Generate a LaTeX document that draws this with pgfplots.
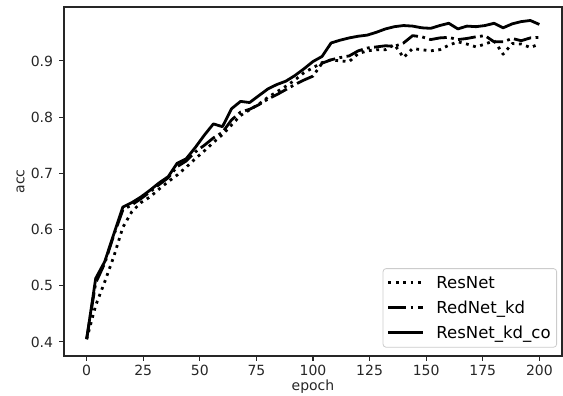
\documentclass[border=0pt]{standalone}
\usepackage{fontspec}
\setmainfont{DejaVu Sans}
\usepackage{pgfplots}
\usepackage{pgfplotstable}
\pgfplotsset{compat=1.18}

\pgfplotstableread{
e res red co
0 0.405 0.405 0.405
4 0.465 0.505 0.513
8 0.507 0.540 0.543
12 0.552 0.590 0.592
16 0.604 0.635 0.640
20 0.632 0.644 0.648
24 0.648 0.655 0.658
28 0.658 0.667 0.670
32 0.672 0.680 0.683
36 0.685 0.692 0.694
40 0.697 0.712 0.718
44 0.711 0.722 0.726
48 0.726 0.738 0.746
52 0.740 0.750 0.768
56 0.755 0.763 0.788
60 0.769 0.773 0.783
64 0.786 0.795 0.815
68 0.803 0.809 0.828
72 0.813 0.814 0.826
76 0.823 0.822 0.838
80 0.835 0.832 0.850
84 0.845 0.840 0.858
88 0.855 0.849 0.864
92 0.866 0.858 0.874
96 0.879 0.866 0.886
100 0.888 0.873 0.899
104 0.897 0.896 0.908
108 0.902 0.902 0.932
112 0.900 0.906 0.937
116 0.899 0.909 0.941
120 0.913 0.918 0.944
124 0.918 0.923 0.946
128 0.920 0.925 0.951
132 0.920 0.927 0.957
136 0.929 0.926 0.961
140 0.906 0.932 0.963
144 0.922 0.945 0.962
148 0.920 0.943 0.959
152 0.918 0.938 0.958
156 0.920 0.941 0.963
160 0.928 0.942 0.967
164 0.934 0.938 0.957
168 0.930 0.940 0.962
172 0.925 0.943 0.961
176 0.930 0.945 0.963
180 0.936 0.934 0.967
184 0.912 0.934 0.959
188 0.931 0.940 0.966
192 0.930 0.936 0.970
196 0.924 0.941 0.972
200 0.930 0.942 0.965
}\acctable

\begin{document}
\begin{tikzpicture}[x=1pt,y=1pt]
\begin{axis}[
  at={(0,0)}, anchor=south west,
  scale only axis, width=498pt, height=349pt,
  xmin=-10, xmax=210, ymin=0.375, ymax=0.996,
  xtick={0,25,50,75,100,125,150,175,200},
  ytick={0.4,0.5,0.6,0.7,0.8,0.9},
  yticklabels={0.4,0.5,0.6,0.7,0.8,0.9},
  /pgf/number format/assume math mode=true,
  tick align=outside, major tick length=4.9pt,
  xtick pos=bottom, ytick pos=left,
  axis line style={line width=1.1pt, black!85},
  every tick/.style={line width=1.1pt, black!85},
  tick label style={font=\fontsize{14}{16}\selectfont, text=black!85},
  xticklabel style={yshift=-1pt},
  yticklabel style={xshift=-2.5pt},
  label style={font=\fontsize{14}{16}\selectfont, text=black!85},
  xlabel={epoch}, ylabel={acc},
  xlabel style={at={(axis description cs:0.5,-0.0975)}, anchor=base},
  ylabel style={at={(axis description cs:-0.087,0.5)}, anchor=center},
  legend style={at={(0.99,0.024)}, anchor=south east,
    draw=black!20, line width=0.8pt, rounded corners=3pt,
    fill=white, fill opacity=0.8, text opacity=1,
    font=\fontsize{16.5}{20}\selectfont,
    inner xsep=4pt, inner ysep=5.5pt, row sep=7pt},
  legend cell align=left,
  legend image code/.code={\draw[#1] (0pt,0pt) -- (35pt,0pt); \path[draw=none] (0pt,0pt) -- (46pt,0pt);},
]
\addplot[black, line width=2.8pt, line join=round, dash pattern=on 2.8pt off 4.6pt] table[x=e,y=res] {\acctable};
\addlegendentry{ResNet}
\addplot[black, line width=2.8pt, line join=round, dash pattern=on 17.8pt off 4.4pt on 2.8pt off 4.4pt] table[x=e,y=red] {\acctable};
\addlegendentry{RedNet\_kd}
\addplot[black, line width=2.8pt, line join=round] table[x=e,y=co] {\acctable};
\addlegendentry{ResNet\_kd\_co}
\end{axis}
\pgfresetboundingbox
\path[use as bounding box] (-64,-40) rectangle (499,356);
\end{tikzpicture}
\end{document}
